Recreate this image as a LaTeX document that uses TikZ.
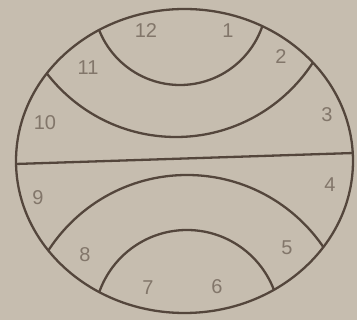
\documentclass[tikz,border=0pt]{standalone}
\usepackage{fontspec}
\setmainfont{Liberation Sans}
\definecolor{bg}{RGB}{198,189,175}
\definecolor{ink}{RGB}{84,70,60}
\definecolor{lbl}{RGB}{130,118,106}
\begin{document}
\begin{tikzpicture}[x=1pt,y=-1pt,
  arcline/.style={draw=ink,line width=2.3pt},
  lab/.style={text=lbl,font=\fontsize{20}{20}\selectfont,inner sep=0pt}]
\fill[bg] (0,0) rectangle (357,320);
\useasboundingbox (0,0) rectangle (357,320);
\coordinate (O) at (184.5,161);
\coordinate (hl) at (0,164.5);
\coordinate (hr) at (360,152.8);
\coordinate (c1) at (180,-2);
\coordinate (c2) at (176,-26);
\coordinate (c3) at (187,340);
\coordinate (c4) at (187,323);
\begin{scope}
  \clip (O) ellipse [x radius=168.5pt, y radius=152pt];
  \draw[arcline] (c1) circle [radius=87pt];
  \draw[arcline] (c2) circle [radius=163pt];
  \draw[arcline] (c3) circle [radius=165pt];
  \draw[arcline] (c4) circle [radius=93pt];
  \draw[arcline] (hl) -- (hr);
\end{scope}
\draw[arcline] (O) ellipse [x radius=168.5pt, y radius=152pt];
\node[lab] (n12) at (146,31) {12};
\node[lab] (n1) at (228,31) {1};
\node[lab] (n2) at (281,57) {2};
\node[lab] (n3) at (327,115) {3};
\node[lab] (n4) at (330,185) {4};
\node[lab] (n5) at (287,248) {5};
\node[lab] (n6) at (217,287) {6};
\node[lab] (n7) at (148,288) {7};
\node[lab] (n8) at (85,255) {8};
\node[lab] (n9) at (38,198) {9};
\node[lab] (n10) at (45,123) {10};
\node[lab] (n11) at (88,68) {11};
\end{tikzpicture}
\end{document}
